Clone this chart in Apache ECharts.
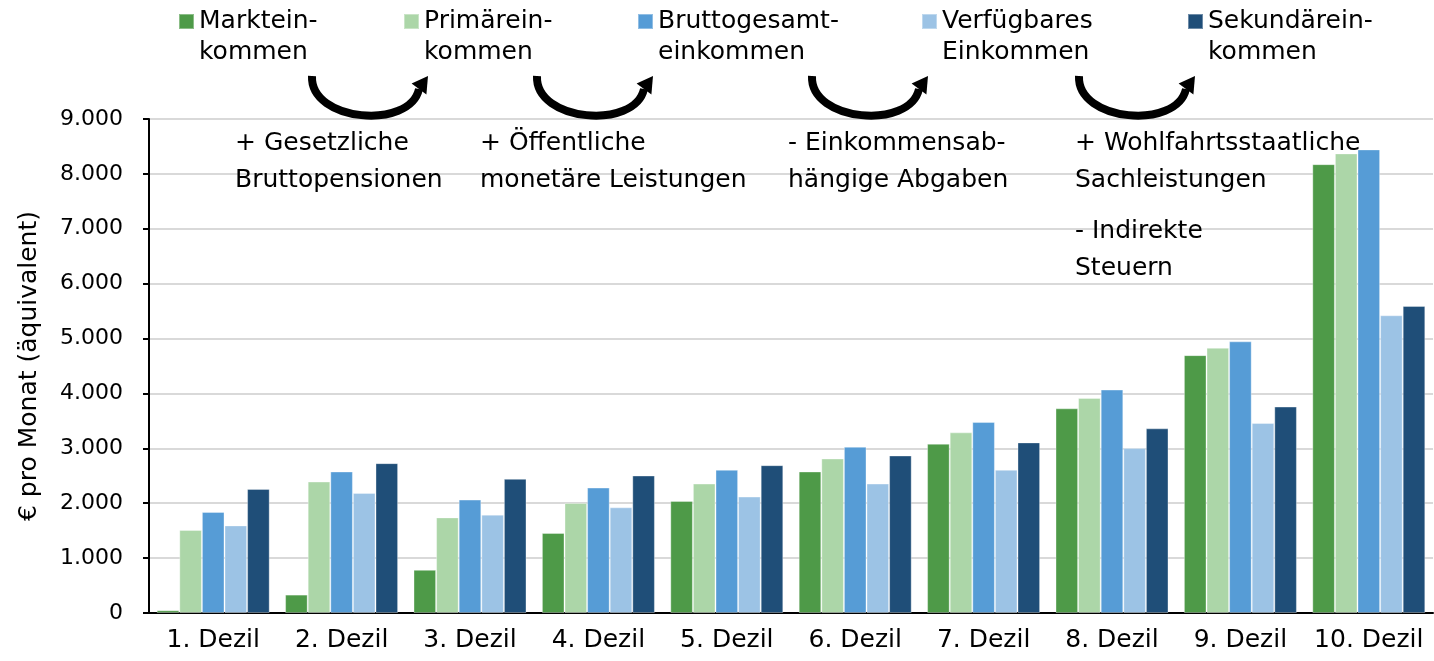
<!DOCTYPE html>
<html>
<head>
<meta charset="utf-8">
<script src="https://cdn.jsdelivr.net/npm/echarts@6/dist/echarts.min.js"></script>
<style>
  html, body { margin: 0; padding: 0; background: #fff; }
  #main { width: 1434px; height: 661px; }
</style>
</head>
<body>
<div id="main"></div>
<script>
// Daten
var categories = ['1. Dezil', '2. Dezil', '3. Dezil', '4. Dezil', '5. Dezil',
                  '6. Dezil', '7. Dezil', '8. Dezil', '9. Dezil', '10. Dezil'];
var seriesNames = ['Marktein-\nkommen', 'Primärein-\nkommen', 'Bruttogesamt-\neinkommen',
                   'Verfügbares\nEinkommen', 'Sekundärein-\nkommen'];
var markt     = [50, 335, 786, 1457, 2042, 2578, 3084, 3729, 4698, 8177];
var primaer   = [1512, 2395, 1742, 2005, 2358, 2815, 3291, 3918, 4832, 8373];
var brutto    = [1841, 2578, 2066, 2285, 2609, 3029, 3479, 4071, 4949, 8446];
var verfuegb  = [1596, 2188, 1792, 1925, 2121, 2358, 2609, 3004, 3461, 5424];
var sekundaer = [2261, 2730, 2444, 2505, 2693, 2870, 3108, 3364, 3761, 5594];
var yTicks = [0, 1000, 2000, 3000, 4000, 5000, 6000, 7000, 8000, 9000];

var colors = ['#4e9a48', '#acd6a8', '#569cd6', '#9cc3e5', '#1f4e78'];
var allData = [markt, primaer, brutto, verfuegb, sekundaer];

var FONT = 'DejaVu Sans';

// Legende: jede Position einzeln wie im Original
var legendLeft = [178, 403, 637, 921, 1187];
var legends = [];
for (var i = 0; i < seriesNames.length; i++) {
    legends.push({
        data: [seriesNames[i]],
        left: legendLeft[i],
        top: -25,
        padding: 0,
        icon: 'rect',
        itemWidth: 15,
        itemHeight: 15,
        selectedMode: false,
        // leere Zeile davor, damit die erste Zeile neben dem Symbol steht
        formatter: function (name) { return ' \n' + name; },
        textStyle: {
            fontFamily: FONT,
            fontSize: 25,
            lineHeight: 31,
            color: '#000'
        }
    });
}

var series = [];
for (var j = 0; j < seriesNames.length; j++) {
    series.push({
        name: seriesNames[j],
        type: 'bar',
        barGap: '0%',
        barCategoryGap: '12%',
        itemStyle: { color: colors[j], borderColor: 'rgba(255,255,255,0.35)', borderWidth: 1 },
        data: allData[j]
    });
}

// Pfeile + Texte
function arrow(x0) {
    return [
        {
            type: 'bezierCurve',
            shape: { x1: x0, y1: 76, cpx1: x0 - 2, cpy1: 122, cpx2: x0 + 98, cpy2: 130, x2: x0 + 107, y2: 89 },
            style: { stroke: '#000', lineWidth: 8, fill: null },
            z: 10
        },
        {
            type: 'polygon',
            shape: { points: [[x0 + 116, 76], [x0 + 99.6, 83.4], [x0 + 114.4, 94.6]] },
            style: { fill: '#000' },
            z: 10
        }
    ];
}

function label(x, y, txt) {
    return {
        type: 'text',
        left: x,
        top: y,
        z: 20,
        style: {
            text: txt,
            font: '25px ' + FONT,
            fill: '#000',
            lineHeight: 37
        }
    };
}

var graphics = [].concat(
    arrow(312), arrow(537), arrow(812), arrow(1079),
    [
        label(235, 125, '+ Gesetzliche\nBruttopensionen'),
        label(480, 125, '+ Öffentliche\nmonetäre Leistungen'),
        label(788, 125, '- Einkommensab-\nhängige Abgaben'),
        label(1075, 125, '+ Wohlfahrtsstaatliche\nSachleistungen'),
        label(1075, 213, '- Indirekte\nSteuern')
    ]
);

var myChart = echarts.init(document.getElementById('main'));

var option = {
    animation: false,
    backgroundColor: '#fff',
    legend: legends,
    grid: {
        left: 149,
        right: 1,
        top: 119,
        bottom: 48,
        containLabel: false
    },
    xAxis: {
        type: 'category',
        data: categories,
        axisLine: { lineStyle: { color: '#000', width: 2 } },
        axisTick: { length: 8, lineStyle: { color: '#000', width: 2 } },
        axisLabel: { interval: 0, fontFamily: FONT, fontSize: 25, color: '#000', margin: 15 }
    },
    yAxis: {
        type: 'value',
        min: yTicks[0],
        max: yTicks[yTicks.length - 1],
        interval: 1000,
        name: '€ pro Monat (äquivalent)',
        nameLocation: 'middle',
        nameGap: 107,
        nameTextStyle: { fontFamily: FONT, fontSize: 25, color: '#000' },
        axisLine: { show: true, lineStyle: { color: '#000', width: 2 } },
        axisTick: { show: true, length: 6, lineStyle: { color: '#000', width: 2 } },
        splitLine: { lineStyle: { color: '#d9d9d9', width: 2 } },
        axisLabel: {
            fontFamily: FONT,
            fontSize: 22,
            color: '#000',
            margin: 26,
            formatter: function (v) {
                return String(v).replace(/\B(?=(\d{3})+(?!\d))/g, '.');
            }
        }
    },
    graphic: graphics,
    series: series
};

myChart.setOption(option);
</script>
</body>
</html>
